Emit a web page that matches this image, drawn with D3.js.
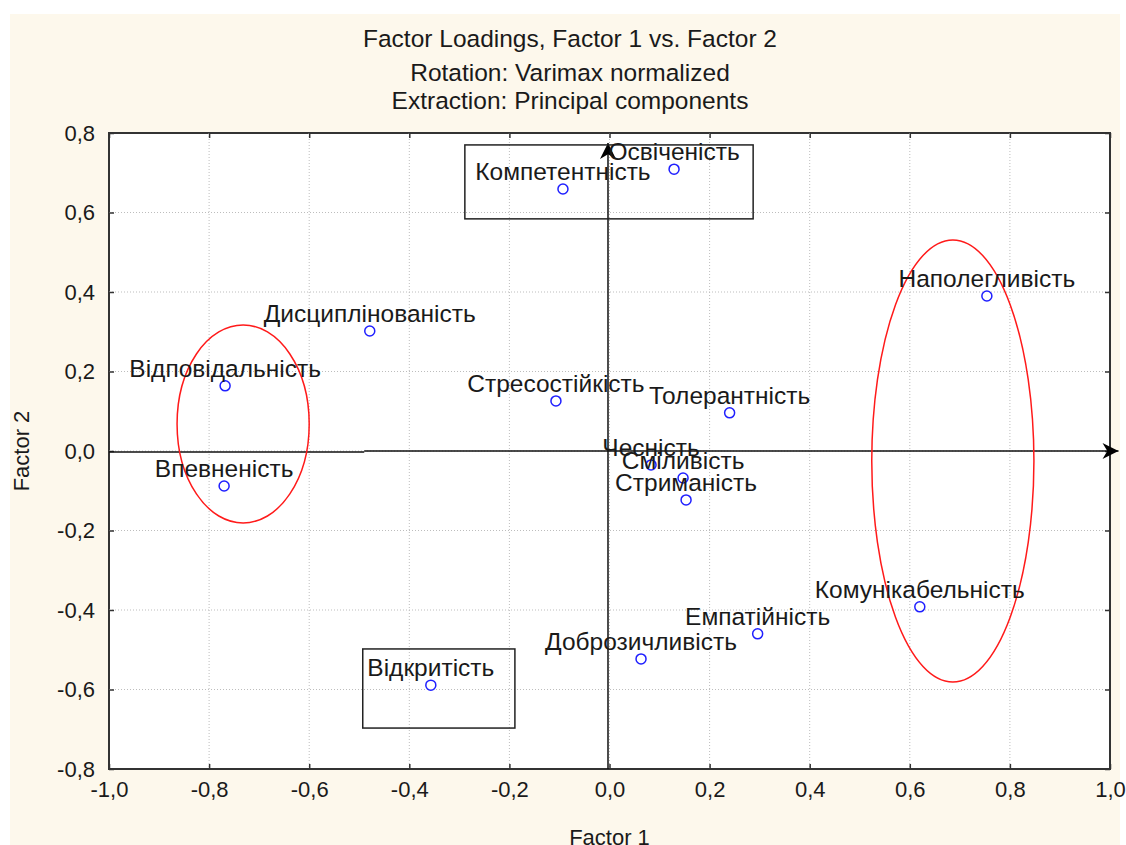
<!DOCTYPE html>
<meta charset="utf-8">
<style type="text/css">
	body { margin: 0; background: #fff; }
	.chart-factor text { font-family: "Liberation Sans", Arial, sans-serif; fill: #1a1a1a; }
	.grid-factor line { stroke: #bdbdbd; stroke-width: 1; stroke-dasharray: 1,2; }
	.frame-factor { fill: #fff; stroke: #333; stroke-width: 2; }
	.point-factor { fill: #fff; stroke: #1f1fff; stroke-width: 1.5; }
	.label-factor { font-size: 24.5px; text-anchor: middle; }
	.ring-factor { fill: none; stroke: #ff1a1a; stroke-width: 1.5; }
	.box-factor { fill: none; stroke: #222; stroke-width: 1.5; }
	.axisline-factor { stroke: #111; stroke-width: 1.5; fill: none; }
</style>

<div class="chart-factor"></div>

<script src="https://d3js.org/d3.v7.min.js"></script>
<script>

	// ---- //
	// Data //
	// ---- //

	const labels = ["Освіченість", "Компетентність", "Наполегливість", "Дисциплінованість",
		"Відповідальність", "Стресостійкість", "Толерантність", "Чесність", "Сміливість",
		"Стриманість", "Впевненість", "Комунікабельність", "Емпатійність", "Доброзичливість",
		"Відкритість"];
	const factor1 = [0.129, -0.093, 0.754, -0.479, -0.768, -0.107, 0.240, 0.083, 0.147,
		0.153, -0.770, 0.620, 0.296, 0.063, -0.357];
	const factor2 = [0.709, 0.659, 0.390, 0.302, 0.164, 0.126, 0.096, -0.035, -0.068,
		-0.123, -0.088, -0.392, -0.460, -0.523, -0.589];

	const xTicks = [-1.0, -0.8, -0.6, -0.4, -0.2, 0.0, 0.2, 0.4, 0.6, 0.8, 1.0];
	const yTicks = [-0.8, -0.6, -0.4, -0.2, 0.0, 0.2, 0.4, 0.6, 0.8];

	// groups marked by hand on the original: ellipses [cx, cy, rx, ry], boxes [x0, y0, x1, y1]
	const ellipses = [[-0.732, 0.068, 0.132, 0.249], [0.686, -0.025, 0.162, 0.556]];
	const boxes = [[-0.289, 0.770, 0.287, 0.584], [-0.493, -0.498, -0.189, -0.697]];

	const titleLines = ["Factor Loadings, Factor 1 vs. Factor 2",
		"Rotation: Varimax normalized", "Extraction: Principal components"];

	// ----- //
	// Setup //
	// ----- //

	let margin = {top: 133, left: 109},
		width = 1001,
		height = 636;

	let x = d3.scaleLinear().domain([-1, 1]).range([0, width]);
	let y = d3.scaleLinear().domain([-0.8, 0.8]).range([height, 0]);
	// comma decimals, plain hyphen for minus
	let fmt = d => d3.format(".1f")(d).replace(".", ",").replace("\u2212", "-");

	let root = d3.select(".chart-factor")
		.append("svg")
			.attr("width", 1126)
			.attr("height", 845);

	// cream panel
	root.append("rect")
		.attr("x", 10).attr("y", 14)
		.attr("width", 1110).attr("height", 831)
		.attr("fill", "#fdf8ec");

	let svg = root.append("g")
		.attr("transform", "translate(" + margin.left + "," + margin.top + ")");

	// arrow head
	root.append("defs").append("marker")
		.attr("id", "arrow")
		.attr("viewBox", "0 0 10 10")
		.attr("refX", 10).attr("refY", 5)
		.attr("markerWidth", 18).attr("markerHeight", 16)
		.attr("markerUnits", "userSpaceOnUse")
		.attr("orient", "auto")
		.append("path")
			.attr("d", "M0,0 L10,5 L0,10 L3,5 Z")
			.attr("fill", "#000");

	// TITLE
	root.selectAll(".title-factor")
		.data(titleLines)
		.enter().append("text")
			.attr("class", "title-factor")
			.attr("x", 570)
			.attr("y", (d, i) => [47, 81, 109][i])
			.style("text-anchor", "middle")
			.style("font-size", "24.5px")
			.text(d => d);

	// FRAME
	svg.append("rect")
		.attr("class", "frame-factor")
		.attr("width", width)
		.attr("height", height);

	// GRID
	let grid = svg.append("g").attr("class", "grid-factor");
	grid.selectAll(".gx")
		.data(xTicks.slice(1, -1))
		.enter().append("line")
			.attr("x1", d => x(d)).attr("x2", d => x(d))
			.attr("y1", 0).attr("y2", height);
	grid.selectAll(".gy")
		.data(yTicks.slice(1, -1))
		.enter().append("line")
			.attr("y1", d => y(d)).attr("y2", d => y(d))
			.attr("x1", 0).attr("x2", width);

	// AXES (inner ticks on all four sides)
	let axes = [
		[d3.axisBottom(x).tickValues(xTicks).tickSizeInner(-5).tickSizeOuter(0).tickPadding(12).tickFormat(fmt), "translate(0," + height + ")", true],
		[d3.axisTop(x).tickValues(xTicks).tickSizeInner(-5).tickSizeOuter(0), "translate(0,0)", false],
		[d3.axisLeft(y).tickValues(yTicks).tickSizeInner(-5).tickSizeOuter(0).tickPadding(14).tickFormat(fmt), "translate(0,0)", true],
		[d3.axisRight(y).tickValues(yTicks).tickSizeInner(-5).tickSizeOuter(0), "translate(" + width + ",0)", false]
	];
	axes.forEach(a => {
		let g = svg.append("g")
			.attr("transform", a[1])
			.call(a[0]);
		g.select(".domain").remove();
		g.selectAll("line").attr("stroke", "#333").attr("stroke-width", 1.5);
		g.selectAll("text").style("font-size", "22px").attr("fill", "#1a1a1a");
		if (!a[2]) g.selectAll("text").remove();
	});

	// AXIS TITLES
	svg.append("text")
		.attr("x", width / 2)
		.attr("y", height + 76)
		.style("text-anchor", "middle")
		.style("font-size", "22px")
		.text("Factor 1");
	svg.append("text")
		.attr("transform", "rotate(-90)")
		.attr("x", -y(0))
		.attr("y", -80)
		.style("text-anchor", "middle")
		.style("font-size", "22px")
		.text("Factor 2");

	// ORIGIN LINES WITH ARROWS
	svg.append("line")
		.attr("class", "axisline-factor")
		.attr("x1", x(-1)).attr("x2", x(-0.49))
		.attr("y1", y(0) + 1).attr("y2", y(0) + 1);
	svg.append("line")
		.attr("class", "axisline-factor")
		.attr("x1", x(-0.49)).attr("x2", x(1.017))
		.attr("y1", y(0)).attr("y2", y(0))
		.attr("marker-end", "url(#arrow)");
	svg.append("line")
		.attr("class", "axisline-factor")
		.attr("x1", x(-0.003)).attr("x2", x(-0.003))
		.attr("y1", y(-0.8)).attr("y2", y(0.775))
		.attr("marker-end", "url(#arrow)");

	// BOXES AND ELLIPSES
	svg.selectAll(".box-factor")
		.data(boxes)
		.enter().append("rect")
			.attr("class", "box-factor")
			.attr("x", d => x(d[0]))
			.attr("y", d => y(d[1]))
			.attr("width", d => x(d[2]) - x(d[0]))
			.attr("height", d => y(d[3]) - y(d[1]));
	svg.selectAll(".ring-factor")
		.data(ellipses)
		.enter().append("ellipse")
			.attr("class", "ring-factor")
			.attr("cx", d => x(d[0]))
			.attr("cy", d => y(d[1]))
			.attr("rx", d => x(d[2]) - x(0))
			.attr("ry", d => y(0) - y(d[3]));

	// POINTS
	let data = labels.map((l, i) => ({label: l, f1: factor1[i], f2: factor2[i]}));

	svg.selectAll(".point-factor")
		.data(data)
		.enter().append("circle")
			.attr("class", "point-factor")
			.attr("cx", d => x(d.f1))
			.attr("cy", d => y(d.f2))
			.attr("r", 5);

	svg.selectAll(".label-factor")
		.data(data)
		.enter().append("text")
			.attr("class", "label-factor")
			.attr("x", d => x(d.f1))
			.attr("y", d => y(d.f2) - 9)
			.text(d => d.label);

</script>
